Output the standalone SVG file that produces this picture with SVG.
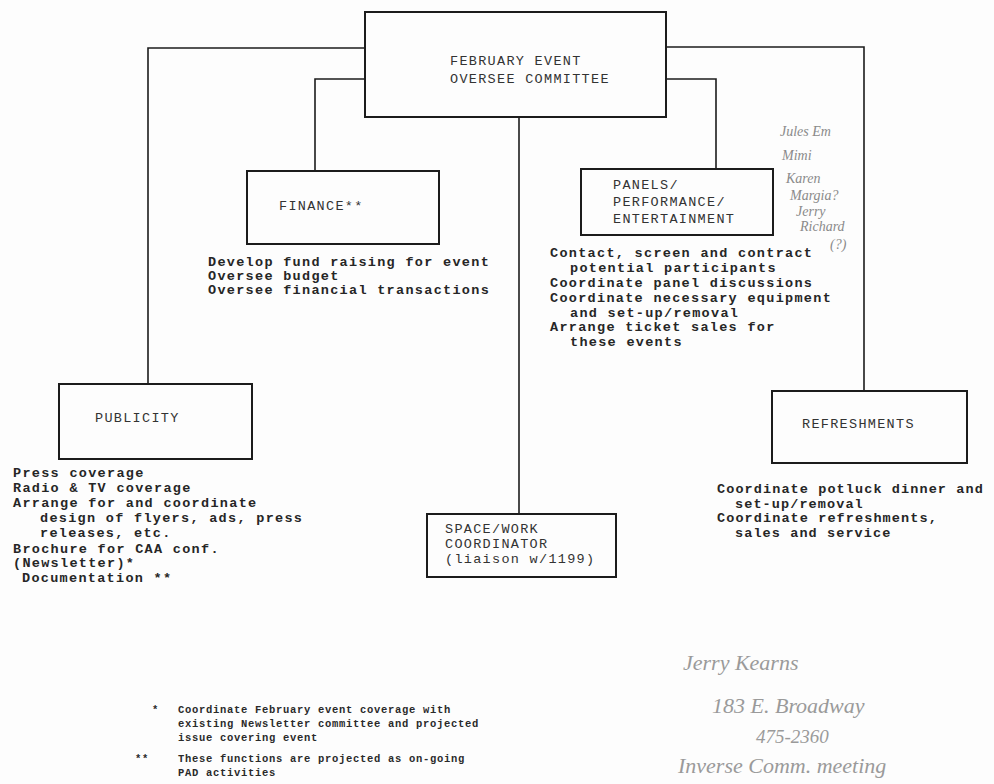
<svg xmlns="http://www.w3.org/2000/svg" width="994" height="784" viewBox="0 0 994 784">
<style>
.box{fill:none;stroke:#1c1c1c;stroke-width:2}
.conn{fill:none;stroke:#1c1c1c;stroke-width:1.6}
.lbl{font-family:"Liberation Mono","DejaVu Sans Mono",monospace;font-size:13.5px;letter-spacing:1.3px;fill:#333}
.t{font-family:"Liberation Mono","DejaVu Sans Mono",monospace;font-size:13.5px;letter-spacing:1.3px;font-weight:bold;fill:#262626}
.foot{font-family:"Liberation Mono","DejaVu Sans Mono",monospace;font-size:10.5px;letter-spacing:0.7px;font-weight:bold;fill:#2a2a2a}
.hand{font-family:"Liberation Serif",serif;font-style:italic;font-size:14px;fill:#8a8a8a}
.handb{font-family:"Liberation Serif",serif;font-style:italic;font-size:22px;fill:#9a9a9a}
</style>
<rect width="994" height="784" fill="#fdfdfd"/>
<g id="connectors">
<path class="conn" d="M365,48 H148 V384"/>
<path class="conn" d="M365,79 H315 V171"/>
<path class="conn" d="M666,79 H716 V169"/>
<path class="conn" d="M666,47 H864 V391"/>
<path class="conn" d="M519,117 V514"/>
</g>
<g id="oversee">
<rect class="box" x="365" y="12" width="301" height="105"/>
<text class="lbl" x="450" y="65">FEBRUARY EVENT</text>
<text class="lbl" x="450" y="83">OVERSEE COMMITTEE</text>
</g>
<g id="finance">
<rect class="box" x="247" y="171" width="192" height="73"/>
<text class="lbl" x="279" y="210">FINANCE**</text>
<text class="t" x="208" y="266">Develop fund raising for event</text>
<text class="t" x="208" y="280">Oversee budget</text>
<text class="t" x="208" y="294">Oversee financial transactions</text>
</g>
<g id="panels">
<rect class="box" x="581" y="169" width="192" height="66"/>
<text class="lbl" x="613" y="189">PANELS/</text>
<text class="lbl" x="613" y="206">PERFORMANCE/</text>
<text class="lbl" x="613" y="223">ENTERTAINMENT</text>
<text class="t" x="550" y="257">Contact, screen and contract</text>
<text class="t" x="570" y="272">potential participants</text>
<text class="t" x="550" y="287">Coordinate panel discussions</text>
<text class="t" x="550" y="302">Coordinate necessary equipment</text>
<text class="t" x="570" y="317">and set-up/removal</text>
<text class="t" x="550" y="331">Arrange ticket sales for</text>
<text class="t" x="570" y="346">these events</text>
</g>
<g id="publicity">
<rect class="box" x="59" y="384" width="193" height="75"/>
<text class="lbl" x="95" y="422">PUBLICITY</text>
<text class="t" x="13" y="477">Press coverage</text>
<text class="t" x="13" y="492">Radio &amp; TV coverage</text>
<text class="t" x="13" y="507">Arrange for and coordinate</text>
<text class="t" x="40" y="522">design of flyers, ads, press</text>
<text class="t" x="40" y="537">releases, etc.</text>
<text class="t" x="13" y="553">Brochure for CAA conf.</text>
<text class="t" x="13" y="567">(Newsletter)*</text>
<text class="t" x="22" y="582">Documentation **</text>
</g>
<g id="space-work">
<rect class="box" x="427" y="514" width="189" height="63"/>
<text class="lbl" x="445" y="533">SPACE/WORK</text>
<text class="lbl" x="445" y="548">COORDINATOR</text>
<text class="lbl" x="445" y="563">(liaison w/1199)</text>
</g>
<g id="refreshments">
<rect class="box" x="772" y="391" width="195" height="72"/>
<text class="lbl" x="802" y="428">REFRESHMENTS</text>
<text class="t" x="717" y="493" style="letter-spacing:1.1px">Coordinate potluck dinner and</text>
<text class="t" x="735" y="508" style="letter-spacing:1.1px">set-up/removal</text>
<text class="t" x="717" y="522" style="letter-spacing:1.1px">Coordinate refreshments,</text>
<text class="t" x="735" y="537" style="letter-spacing:1.1px">sales and service</text>
</g>
<g id="footnotes">
<text class="foot" x="152" y="713">*</text>
<text class="foot" x="178" y="713">Coordinate February event coverage with</text>
<text class="foot" x="178" y="727">existing Newsletter committee and projected</text>
<text class="foot" x="178" y="741">issue covering event</text>
<text class="foot" x="135" y="762">**</text>
<text class="foot" x="178" y="762">These functions are projected as on-going</text>
<text class="foot" x="178" y="776">PAD activities</text>
</g>
<g id="handwriting-names">
<text class="hand" x="780" y="136">Jules Em</text>
<text class="hand" x="782" y="160">Mimi</text>
<text class="hand" x="786" y="183">Karen</text>
<text class="hand" x="790" y="200">Margia?</text>
<text class="hand" x="796" y="216">Jerry</text>
<text class="hand" x="800" y="231">Richard</text>
<text class="hand" x="830" y="249">(?)</text>
</g>
<g id="handwriting-address">
<text class="handb" x="683" y="670">Jerry Kearns</text>
<text class="handb" x="712" y="713">183 E. Broadway</text>
<text class="handb" x="756" y="743" style="font-size:19px">475-2360</text>
<text class="handb" x="678" y="773">Inverse Comm. meeting</text>
</g>
</svg>
